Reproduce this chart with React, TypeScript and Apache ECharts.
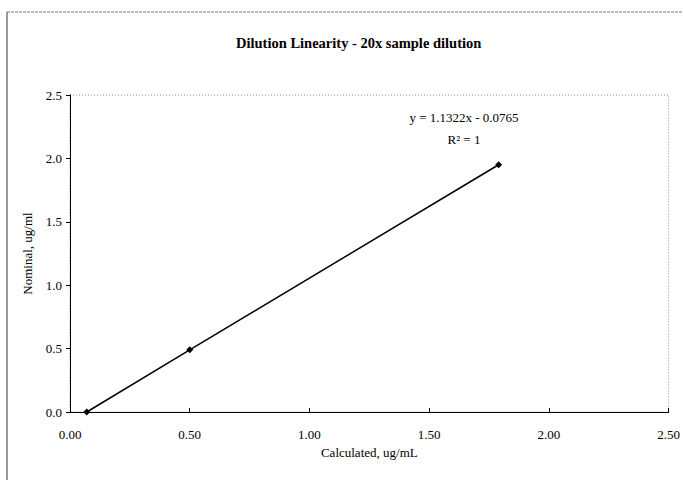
import React, { useEffect, useRef } from "react";
import * as echarts from "echarts";

// Measured concentrations (calculated vs nominal), ug/mL
const calculated = [0.07, 0.5, 1.79];
const nominal = [0.0, 0.49, 1.95];
const xTicks = [0, 2.5, 0.5];
const yTicks = [0, 2.5, 0.5];
const titleText = "Dilution Linearity - 20x sample dilution";
const equationText = "y = 1.1322x - 0.0765";
const r2Text = "R² = 1";

const FONT = "'Liberation Serif', 'Times New Roman', serif";

export default function App() {
  const ref = useRef<HTMLDivElement>(null);

  useEffect(() => {
    if (!ref.current) return;
    const chart = echarts.init(ref.current, null, { renderer: "svg" });
    const points = calculated.map((x, i) => [x, nominal[i]]);
    chart.setOption({
      animation: false,
      backgroundColor: "#ffffff",
      title: {
        text: titleText,
        left: 231,
        top: 30,
        textStyle: { fontFamily: FONT, fontSize: 14.5, fontWeight: "bold", color: "#000" },
      },
      grid: {
        left: 70,
        right: 13,
        top: 95,
        bottom: 68,
        show: true,
        borderColor: "#888",
        borderWidth: 1,
        borderType: [1, 2],
      },
      xAxis: {
        type: "value",
        min: xTicks[0],
        max: xTicks[1],
        interval: xTicks[2],
        name: "Calculated, ug/mL",
        nameLocation: "middle",
        nameGap: 34,
        nameTextStyle: { fontFamily: FONT, fontSize: 13, color: "#000" },
        axisLine: { show: true, lineStyle: { color: "#000", width: 1 } },
        axisTick: { show: true, inside: true, length: 4, lineStyle: { color: "#000" } },
        axisLabel: {
          fontFamily: FONT,
          fontSize: 13,
          color: "#000",
          margin: 16,
          formatter: (v: number) => v.toFixed(2),
        },
        splitLine: { show: false },
      },
      yAxis: {
        type: "value",
        min: yTicks[0],
        max: yTicks[1],
        interval: yTicks[2],
        name: "Nominal, ug/ml",
        nameLocation: "middle",
        nameRotate: 90,
        nameGap: 36,
        nameTextStyle: { fontFamily: FONT, fontSize: 13, color: "#000" },
        axisLine: { show: true, lineStyle: { color: "#000", width: 1 } },
        axisTick: { show: true, inside: false, length: 4, lineStyle: { color: "#000" } },
        axisLabel: {
          fontFamily: FONT,
          fontSize: 13,
          color: "#000",
          margin: 8,
          formatter: (v: number) => v.toFixed(1),
        },
        splitLine: { show: false },
      },
      graphic: [
        {
          type: "line",
          shape: { x1: 7, y1: 12, x2: 683, y2: 12 },
          style: { stroke: "#777", lineWidth: 1, lineDash: [3, 1] },
        },
        {
          type: "line",
          shape: { x1: 7, y1: 12, x2: 7, y2: 480 },
          style: { stroke: "#777", lineWidth: 1.5 },
        },
        {
          type: "text",
          x: 464,
          y: 117,
          style: {
            text: equationText,
            fontFamily: FONT,
            fontSize: 13,
            fill: "#000",
            textAlign: "center",
            textVerticalAlign: "middle",
          },
        },
        {
          type: "text",
          x: 464,
          y: 139,
          style: {
            text: r2Text,
            fontFamily: FONT,
            fontSize: 13,
            fill: "#000",
            textAlign: "center",
            textVerticalAlign: "middle",
          },
        },
      ],
      series: [
        {
          type: "line",
          data: points,
          symbol: "diamond",
          symbolSize: 7,
          itemStyle: { color: "#000" },
          lineStyle: { color: "#000", width: 1.5 },
        },
      ],
    });
    return () => chart.dispose();
  }, []);

  return (
    <div
      ref={ref}
      style={{ position: "fixed", left: 0, top: 0, width: 683, height: 480, background: "#fff" }}
    />
  );
}
